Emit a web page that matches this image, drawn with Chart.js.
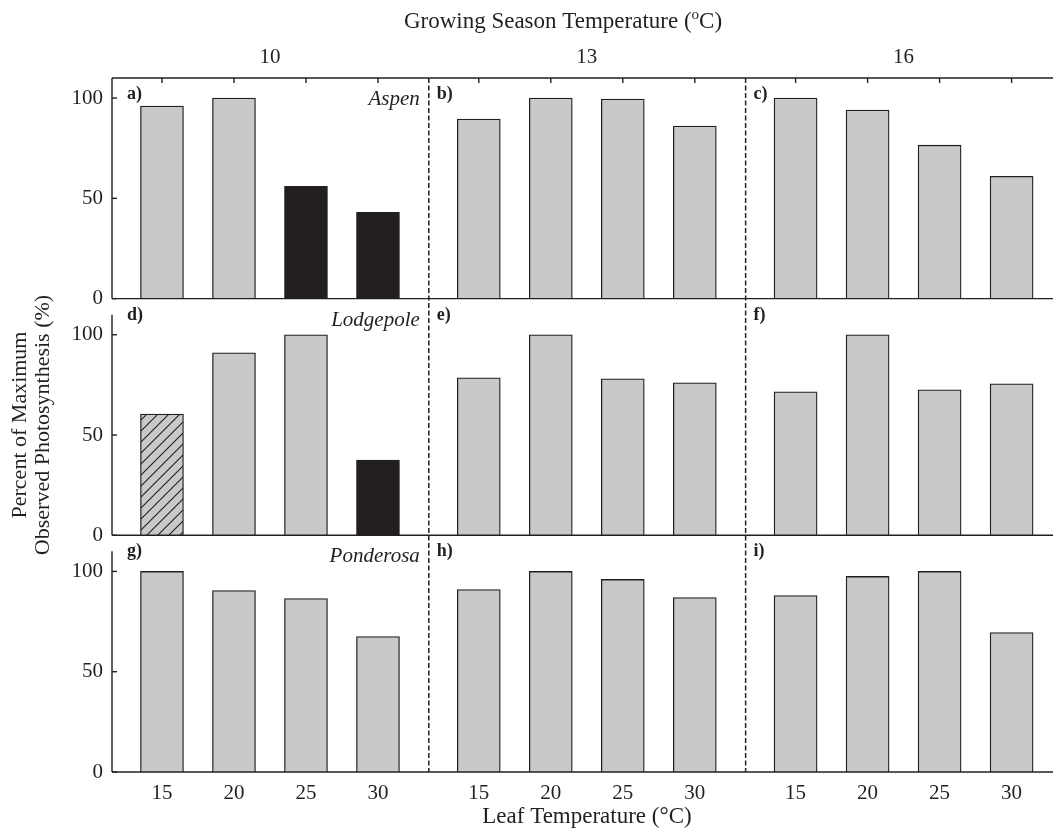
<!DOCTYPE html>
<html>
<head>
<meta charset="utf-8">
<script src="https://cdn.jsdelivr.net/npm/chart.js@4.4.1/dist/chart.umd.min.js"></script>
<style>
  html, body { margin: 0; padding: 0; background: #fff; }
  canvas { display: block; }
</style>
</head>
<body>
<canvas id="photo" width="1053" height="838"></canvas>
<script>
// ── Data ──
const leafTemps = [15, 20, 25, 30];
const growTemps = [10, 13, 16];
const species = ['Aspen', 'Lodgepole', 'Ponderosa'];
const panelTags = ['a)', 'b)', 'c)', 'd)', 'e)', 'f)', 'g)', 'h)', 'i)'];

// percent of maximum observed photosynthesis, 3 growing temps x 4 leaf temps
const aspen = [96, 100, 56, 43, 89.5, 100, 99.5, 86, 100, 94, 76.5, 61];
const lodgepole = [60.5, 91, 100, 37.5, 78.5, 100, 78, 76, 71.5, 100, 72.5, 75.5];
const ponderosa = [100, 90.5, 86.5, 67.5, 91, 100, 96, 87, 88, 97.5, 100, 69.5];

// which bars are drawn solid or hatched
const aspenSolid = [2, 3];
const lodgepoleSolid = [3];
const lodgepoleHatched = [0];

// ── Look ──
const INK = '#231f20';
const GRAY = '#c8c9cb';
const SERIF = "'Liberation Serif', 'Times New Roman', serif";
const GROUP_STEP = 4.4;          // x units between growing-temp groups
const X_MIN = -0.694;
const X_MAX = 12.375;            // frame runs off the right edge
const ROW_AXES = ['y1', 'y2', 'y3'];
const ROW_MAX = [110, 118, 118];  // rows 2-3 carry the gap above their frame
const FRAME_TOP = 110;

const xOf = i => Math.floor(i / 4) * GROUP_STEP + (i % 4);
const barX = Array.from({ length: 12 }, (_, i) => xOf(i));
const groupMid = growTemps.map((_, g) => g * GROUP_STEP + 1.5);

function hatchPattern() {
  const c = document.createElement('canvas');
  c.width = 11; c.height = 11;
  const g = c.getContext('2d');
  g.fillStyle = GRAY; g.fillRect(0, 0, 11, 11);
  g.strokeStyle = INK; g.lineWidth = 1.1;
  g.beginPath();
  g.moveTo(-1, 12); g.lineTo(12, -1);
  g.moveTo(-1, 1); g.lineTo(1, -1);
  g.moveTo(10, 12); g.lineTo(12, 10);
  g.stroke();
  return g.createPattern(c, 'repeat');
}
const HATCH = hatchPattern();

function fills(n, solid, hatched) {
  return Array.from({ length: n }, (_, i) =>
    solid.includes(i) ? INK : hatched.includes(i) ? HATCH : GRAY);
}

const rows = [
  { values: aspen, fill: fills(12, aspenSolid, []) },
  { values: lodgepole, fill: fills(12, lodgepoleSolid, lodgepoleHatched) },
  { values: ponderosa, fill: fills(12, [], []) }
];

const datasets = rows.map((r, k) => ({
  label: species[k],
  data: r.values.map((v, i) => ({ x: barX[i], y: v })),
  yAxisID: ROW_AXES[k],
  backgroundColor: r.fill,
  borderColor: INK,
  borderWidth: 1.3,
  barThickness: 43,
  grouped: false
}));

function yAxis(k) {
  return {
    type: 'linear', position: 'left', stack: 'rows',
    stackWeight: ROW_MAX[k], weight: 3 - k,
    min: 0, max: ROW_MAX[k],
    afterBuildTicks: s => { s.ticks = [0, 50, 100].map(v => ({ value: v })); },
    afterFit: s => { s.width = 112; },
    grid: { display: false, drawTicks: false },
    border: { display: false },
    ticks: { color: INK, font: { family: SERIF, size: 21 }, padding: 9 }
  };
}

function line(ctx, x1, y1, x2, y2) {
  ctx.beginPath(); ctx.moveTo(x1, y1); ctx.lineTo(x2, y2); ctx.stroke();
}

// ── Frame, separators and text ──
const framePlugin = {
  id: 'frame',
  afterDraw(chart) {
    const { ctx, chartArea: area, scales } = chart;
    const x = scales.x;
    ctx.save();
    ctx.strokeStyle = INK;
    ctx.lineWidth = 1.4;
    line(ctx, area.left, area.top, area.right, area.top);
    barX.forEach(v => {
      const px = x.getPixelForValue(v);
      line(ctx, px, area.top, px, area.top + 5);
    });

    ROW_AXES.forEach((id, r) => {
      const y = scales[id];
      const y0 = y.getPixelForValue(0);
      const yTop = y.getPixelForValue(FRAME_TOP);
      line(ctx, area.left, y0, area.right, y0);
      line(ctx, area.left, yTop, area.left, y0);
      [0, 50, 100].forEach(t => {
        const py = y.getPixelForValue(t);
        line(ctx, area.left, py, area.left + 5, py);
      });
    });

    ctx.lineWidth = 1.5;
    ctx.setLineDash([5, 2.5]);
    [1, 2].forEach(g => {
      const px = x.getPixelForValue(g * GROUP_STEP + X_MIN);
      line(ctx, px, area.top, px, area.bottom);
    });
    ctx.setLineDash([]);

    ctx.fillStyle = INK;
    ROW_AXES.forEach((id, r) => {
      const rowTop = r === 0 ? area.top : scales[id].top;
      growTemps.forEach((_, g) => {
        const left = x.getPixelForValue(g * GROUP_STEP + X_MIN);
        ctx.font = 'bold 18px ' + SERIF;
        ctx.textAlign = 'left';
        ctx.textBaseline = 'alphabetic';
        ctx.fillText(panelTags[r * 3 + g], left + (g === 0 ? 15 : 8), rowTop + 21);
      });
      const sep = x.getPixelForValue(GROUP_STEP + X_MIN);
      ctx.font = 'italic 21px ' + SERIF;
      ctx.textAlign = 'right';
      ctx.fillText(species[r], sep - 9, rowTop + 27);
    });

    // top title with superscript o
    ctx.font = '23px ' + SERIF;
    const partA = 'Growing Season Temperature (';
    const partB = 'C)';
    const wA = ctx.measureText(partA).width;
    const wB = ctx.measureText(partB).width;
    ctx.font = '15px ' + SERIF;
    const wO = ctx.measureText('o').width;
    const tx = 563 - (wA + wO + wB) / 2;
    ctx.textAlign = 'left';
    ctx.font = '23px ' + SERIF;
    ctx.fillText(partA, tx, 28);
    ctx.font = '15px ' + SERIF;
    ctx.fillText('o', tx + wA, 19);
    ctx.font = '23px ' + SERIF;
    ctx.fillText(partB, tx + wA + wO, 28);

    ctx.textAlign = 'center';
    ctx.fillText('Leaf Temperature (°C)', 587, 823);

    ctx.save();
    ctx.font = '22px ' + SERIF;
    ctx.translate(0, 425);
    ctx.rotate(-Math.PI / 2);
    ctx.textBaseline = 'middle';
    ctx.fillText('Percent of Maximum', 0, 20);
    ctx.fillText('Observed Photosynthesis (%)', 0, 43);
    ctx.restore();
    ctx.restore();
  }
};

new Chart(document.getElementById('photo'), {
  type: 'bar',
  data: { datasets },
  options: {
    responsive: false,
    animation: false,
    layout: { padding: 0 },
    plugins: { legend: { display: false }, tooltip: { enabled: false } },
    scales: {
      x: {
        type: 'linear', position: 'bottom', min: X_MIN, max: X_MAX, offset: false,
        afterBuildTicks: s => { s.ticks = barX.map(v => ({ value: v })); },
        afterFit: s => { s.height = 66; },
        grid: { display: false, drawTicks: false },
        border: { display: false },
        ticks: {
          color: INK, font: { family: SERIF, size: 21 }, padding: 9,
          autoSkip: false, maxRotation: 0,
          callback: (v, i) => leafTemps[i % 4]
        }
      },
      xTop: {
        type: 'linear', position: 'top', min: X_MIN, max: X_MAX, offset: false,
        afterBuildTicks: s => { s.ticks = groupMid.map(v => ({ value: v })); },
        afterFit: s => { s.height = 78; },
        grid: { display: false, drawTicks: false },
        border: { display: false },
        ticks: {
          color: INK, font: { family: SERIF, size: 21 }, padding: 8,
          autoSkip: false, maxRotation: 0,
          callback: (v, i) => growTemps[i]
        }
      },
      y1: yAxis(0),
      y2: yAxis(1),
      y3: yAxis(2)
    }
  },
  plugins: [framePlugin]
});
</script>
</body>
</html>
